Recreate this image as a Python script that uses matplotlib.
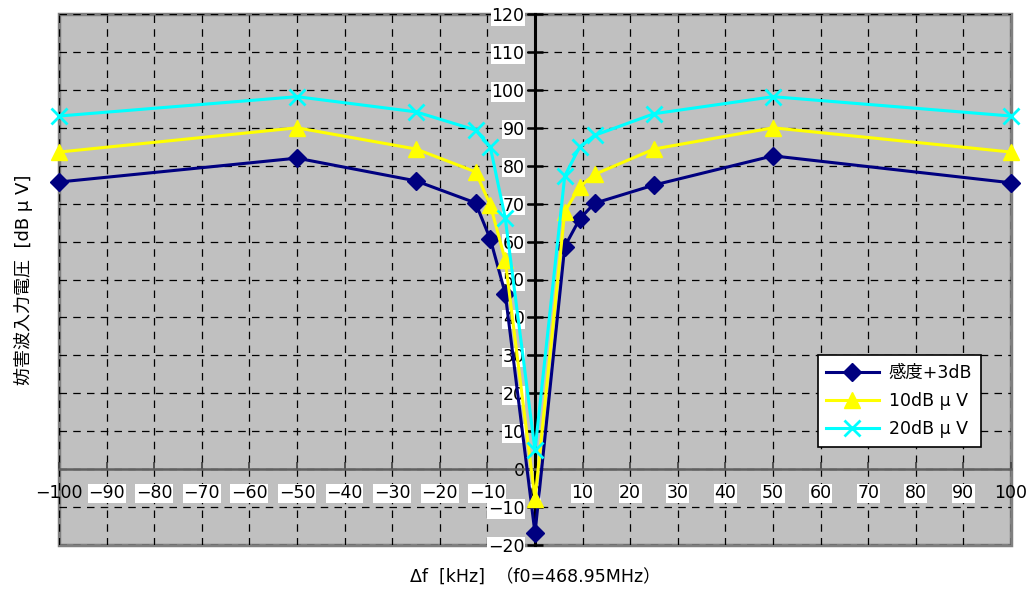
import matplotlib
matplotlib.use("Agg")
import matplotlib.pyplot as plt
import numpy as np

plt.rcParams['font.family'] = ['DejaVu Sans', 'Noto Sans CJK JP']

# data
df_khz = [-100, -50, -25, -12.5, -9.4, -6.25, 0, 6.25, 9.4, 12.5, 25, 50, 100]
sens_3db = [75.7, 82.0, 76.0, 70.2, 60.7, 46.3, -16.9, 58.7, 66.0, 70.1, 74.9, 82.6, 75.5]
lvl_10db = [83.6, 90.0, 84.4, 78.4, 69.7, 55.1, -7.9, 67.9, 74.5, 77.7, 84.4, 90.0, 83.6]
lvl_20db = [93.1, 98.2, 94.2, 89.4, 85.0, 66.2, 5.0, 77.3, 85.0, 88.0, 93.7, 98.2, 93.1]
series_names = ['感度+3dB', '10dB μ V', '20dB μ V']

xticks = np.arange(-100, 101, 10)
yticks = np.arange(-20, 121, 10)

fig = plt.figure(figsize=(10.32, 5.89), dpi=100)
ax = fig.add_axes([59 / 1032, 44 / 589, 952 / 1032, 531 / 589])
ax.set_axisbelow(True)
ax.patch.set_facecolor('#C0C0C0')
ax.patch.set_edgecolor('#808080')
ax.patch.set_linewidth(2.5)

ax.plot(df_khz, sens_3db, color='#000080', lw=2.2, marker='D', ms=9,
        label=series_names[0], clip_on=False, zorder=3)
ax.plot(df_khz, lvl_10db, color='#FFFF00', lw=2.2, marker='^', ms=11,
        label=series_names[1], clip_on=False, zorder=4)
ax.plot(df_khz, lvl_20db, color='#00FFFF', lw=2.2, marker='x', ms=11, mew=2,
        label=series_names[2], clip_on=False, zorder=5)

ax.set_xlim(-100, 100)
ax.set_ylim(-20, 120)
ax.set_xticks(xticks)
ax.set_yticks(yticks)
ax.set_xticklabels([str(v).replace('-', '\u2212') for v in xticks])
ax.set_yticklabels([str(v).replace('-', '\u2212') for v in yticks])

ax.grid(True, color='black', lw=0.9, linestyle=(0, (6, 5)))

# axes crossing at the origin
ax.spines['left'].set_position(('data', 0))
ax.spines['bottom'].set_position(('data', 0))
ax.spines['left'].set_color('black')
ax.spines['left'].set_linewidth(2.2)
ax.spines['bottom'].set_color('#606060')
ax.spines['bottom'].set_linewidth(1.8)
ax.spines['top'].set_visible(False)
ax.spines['right'].set_visible(False)

ax.tick_params(axis='y', direction='inout', length=11, width=1.8, color='black',
               labelsize=12.5, pad=2)
ax.tick_params(axis='x', direction='in', length=5, width=1.2, color='#404040',
               labelsize=12.5, pad=11)

for lbl in ax.get_yticklabels():
    if lbl.get_text() != '0':
        lbl.set_bbox(dict(facecolor='white', edgecolor='none', pad=0.5))
for lbl in ax.get_xticklabels():
    if lbl.get_text() not in ('100', '\u2212100'):
        lbl.set_bbox(dict(facecolor='white', edgecolor='none', pad=0.5))

ax.set_xlabel('Δf  [kHz]  （f0=468.95MHz）', fontsize=12.5, labelpad=0)
ax.xaxis.set_label_coords(0.5, -0.045)
ax.set_ylabel('妨害波入力電圧  [dB μ V]', fontsize=13)
ax.yaxis.set_label_coords(-0.027, 0.5)

leg = ax.legend(loc='upper left', bbox_to_anchor=(0.797, 0.358), fontsize=12.5,
                fancybox=False, framealpha=1, edgecolor='black',
                handlelength=3.0, borderpad=0.5, labelspacing=0.6,
                borderaxespad=0, handletextpad=0.6)
leg.get_frame().set_linewidth(1.2)

fig.savefig('out.png', dpi=100)
